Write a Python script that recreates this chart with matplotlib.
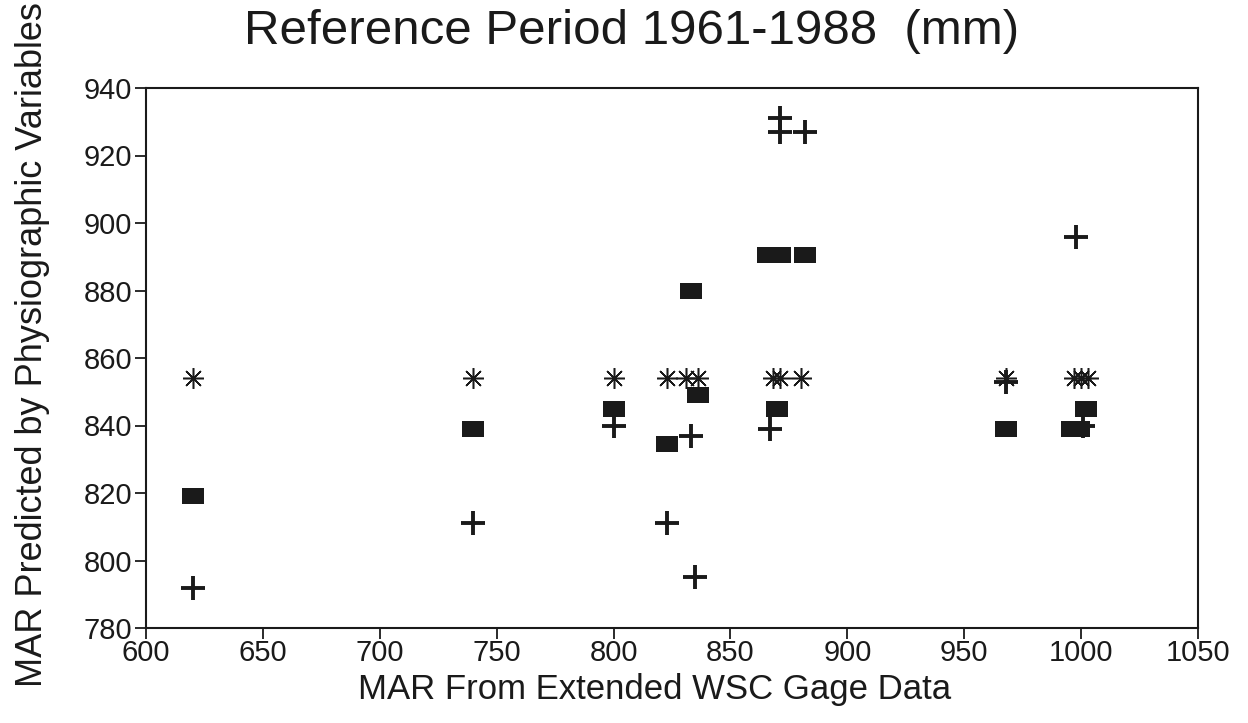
import matplotlib
matplotlib.use("Agg")
import matplotlib.pyplot as plt
from matplotlib.path import Path

# ---- data ----
star_x = [620, 740, 800, 823, 831, 836, 868, 871, 880, 968, 997, 1000, 1003]
star_y = [854, 854, 854, 854, 854, 854, 854, 854, 854, 854, 854, 854, 854]

square_x = [620, 740, 800, 823, 833, 836, 866, 871, 870, 882, 968, 996, 999, 1002]
square_y = [819, 839, 845, 834.5, 880, 849, 890.5, 890.5, 845, 890.5, 839, 839, 839, 845]

plus_x = [620, 740, 800, 823, 833, 835, 867, 871, 871, 882, 968, 998, 1001]
plus_y = [792, 811, 840, 811, 837, 795, 839, 931, 927, 927, 853, 896, 840]

x_ticks = [600, 650, 700, 750, 800, 850, 900, 950, 1000, 1050]
y_ticks = [780, 800, 820, 840, 860, 880, 900, 920, 940]

title = "Reference Period 1961-1988  (mm)"
xlabel = "MAR From Extended WSC Gage Data"
ylabel = "MAR Predicted by Physiographic Variables"

plt.rcParams['font.family'] = ['Liberation Sans', 'DejaVu Sans']

fig = plt.figure(figsize=(12.48, 7.23), dpi=100)
ax = fig.add_axes([146/1248, 1 - 628/723, (1198 - 146)/1248, (628 - 88)/723])

ink = '#1a1a1a'
rect = Path([(-1, -0.72), (1, -0.72), (1, 0.72), (-1, 0.72), (-1, -0.72)],
            [Path.MOVETO, Path.LINETO, Path.LINETO, Path.LINETO, Path.CLOSEPOLY])

ax.plot(star_x, star_y, linestyle='none', marker=(8, 2, 0), markersize=15,
        markeredgewidth=1.1, color=ink)
ax.plot(square_x, square_y, linestyle='none', marker=rect, markersize=15.5,
        color=ink, markeredgewidth=0)
ax.plot(plus_x, plus_y, linestyle='none', marker='+', markersize=17,
        markeredgewidth=2.8, color=ink)

ax.set_xlim(600, 1050)
ax.set_ylim(780, 940)
ax.set_xticks(x_ticks)
ax.set_yticks(y_ticks)
ax.tick_params(axis='both', direction='out', length=8, width=1.3,
               labelsize=21, colors='#1a1a1a', pad=2)
ax.tick_params(axis='x', pad=0)
for s in ax.spines.values():
    s.set_linewidth(1.5)
    s.set_color(ink)

fig.text(655/1248, 1 - 690/723, xlabel, fontsize=25, color=ink,
         ha='center', va='center')
fig.text(33/1248, 1 - 345/723, ylabel, fontsize=26, color=ink,
         ha='center', va='center', rotation=90)
fig.text(632/1248, 1 - 31/723, title, fontsize=35.5, color=ink,
         ha='center', va='center')

fig.savefig('out.png', dpi=100, facecolor='white')
